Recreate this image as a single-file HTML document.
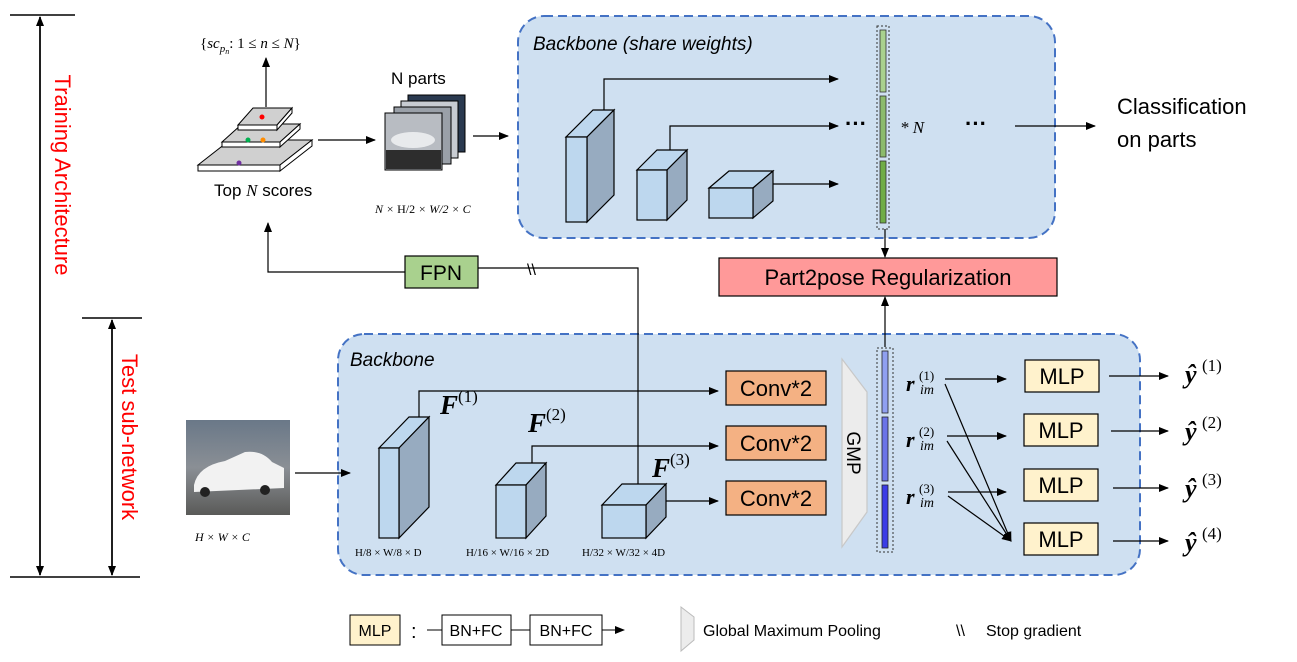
<!DOCTYPE html>
<html><head><meta charset="utf-8"><style>
html,body{margin:0;padding:0;background:#fff;}
svg{display:block;}
text{font-family:"Liberation Sans",sans-serif;}
text.s,.s text,.s tspan{font-family:"Liberation Serif",serif;}
</style></head><body>
<svg width="1297" height="662" viewBox="0 0 1297 662" xmlns="http://www.w3.org/2000/svg">
<defs>
<marker id="a" markerWidth="10" markerHeight="10" refX="9" refY="5" orient="auto" markerUnits="userSpaceOnUse"><path d="M0,1 L10,5 L0,9 z" fill="#000"/></marker>
<linearGradient id="sky" x1="0" y1="0" x2="0" y2="1"><stop offset="0" stop-color="#6a7888"/><stop offset="0.5" stop-color="#8a8f95"/><stop offset="1" stop-color="#5a5a58"/></linearGradient>
</defs>

<g stroke="#000" stroke-width="1.5">
<line x1="10" y1="15" x2="75" y2="15"/><line x1="10" y1="577" x2="140" y2="577"/>
<line x1="40" y1="17" x2="40" y2="575" marker-end="url(#a)"/><line x1="40" y1="575" x2="40" y2="17" marker-end="url(#a)"/>
<line x1="82" y1="318" x2="142" y2="318"/>
<line x1="112" y1="320" x2="112" y2="575" marker-end="url(#a)"/><line x1="112" y1="575" x2="112" y2="320" marker-end="url(#a)"/>
</g>
<text x="0" y="0" transform="translate(55,175) rotate(90)" text-anchor="middle" font-size="22" fill="#ff0000">Training Architecture</text>
<text x="0" y="0" transform="translate(122,437) rotate(90)" text-anchor="middle" font-size="22" fill="#ff0000">Test sub-network</text>

<rect x="518" y="16" width="537" height="222" rx="26" fill="#cfe0f1" stroke="#4472c4" stroke-width="2" stroke-dasharray="9,5"/>
<rect x="338" y="334" width="802" height="241" rx="26" fill="#cfe0f1" stroke="#4472c4" stroke-width="2" stroke-dasharray="9,5"/>
<text x="533" y="50" font-size="19" font-style="italic">Backbone (share weights)</text>
<text x="350" y="366" font-size="19" font-style="italic">Backbone</text>

<g stroke="#000" stroke-width="1.2">
<polygon points="566,137 593,110 614,110 587,137" fill="#bdd7ee"/><polygon points="587,137 614,110 614,195 587,222" fill="#97abc0"/><rect x="566" y="137" width="21" height="85" fill="#bdd7ee"/>
<polygon points="637,170 657,150 687,150 667,170" fill="#bdd7ee"/><polygon points="667,170 687,150 687,200 667,220" fill="#97abc0"/><rect x="637" y="170" width="30" height="50" fill="#bdd7ee"/>
<polygon points="709,188 729,171 773,171 753,188" fill="#bdd7ee"/><polygon points="753,188 773,171 773,201 753,218" fill="#97abc0"/><rect x="709" y="188" width="44" height="30" fill="#bdd7ee"/>
</g>
<g stroke="#000" stroke-width="1.2" fill="none">
<polyline points="604,110 604,79 838,79" marker-end="url(#a)"/>
<polyline points="670,150 670,126 838,126" marker-end="url(#a)"/>
<line x1="773" y1="184" x2="838" y2="184" marker-end="url(#a)"/>
</g>
<rect x="877" y="26" width="12" height="203" fill="none" stroke="#333" stroke-width="1" stroke-dasharray="2,2"/>
<rect x="880" y="30" width="6" height="62" fill="#a9d18e" stroke="#333" stroke-width="0.8"/>
<rect x="880" y="96" width="6" height="61" fill="#8cbb6c" stroke="#333" stroke-width="0.8"/>
<rect x="880" y="161" width="6" height="62" fill="#70ad47" stroke="#333" stroke-width="0.8"/>
<text x="845" y="131" font-size="22" font-weight="bold">···</text>
<text x="900" y="133" font-size="17" class="s" font-style="italic">* N</text>
<text x="965" y="131" font-size="22" font-weight="bold">···</text>
<line x1="1015" y1="126" x2="1095" y2="126" stroke="#000" stroke-width="1.2" marker-end="url(#a)"/>
<text x="1117" y="114" font-size="22">Classification</text>
<text x="1117" y="147" font-size="22">on parts</text>

<line x1="885" y1="229" x2="885" y2="257" stroke="#000" stroke-width="1.2" marker-end="url(#a)"/>
<rect x="719" y="258" width="338" height="38" fill="#ff9999" stroke="#000" stroke-width="1.2"/>
<text x="888" y="285" font-size="22" text-anchor="middle">Part2pose Regularization</text>
<line x1="885" y1="347" x2="885" y2="297" stroke="#000" stroke-width="1.2" marker-end="url(#a)"/>

<g stroke="#000" stroke-width="1">
<polygon points="198,165 230,140 312,140 280,165" fill="#d0d0d0"/><polygon points="198,165 280,165 280,171 198,171" fill="#fff"/><polygon points="280,165 312,140 312,146 280,171" fill="#fff"/>
<polygon points="222,142 242,124 300,124 280,142" fill="#d0d0d0"/><polygon points="222,142 280,142 280,147 222,147" fill="#fff"/><polygon points="280,142 300,124 300,129 280,147" fill="#fff"/>
<polygon points="238,125 253,108 292,108 277,125" fill="#d0d0d0"/><polygon points="238,125 277,125 277,130 238,130" fill="#fff"/><polygon points="277,125 292,108 292,113 277,130" fill="#fff"/>
</g>
<circle cx="262" cy="117" r="2.5" fill="#ff0000"/><circle cx="248" cy="140" r="2.5" fill="#00b050"/><circle cx="263" cy="140" r="2.5" fill="#ff8c00"/><circle cx="239" cy="163" r="2.5" fill="#7030a0"/>
<line x1="266" y1="107" x2="266" y2="58" stroke="#000" stroke-width="1.2" marker-end="url(#a)"/>
<text x="200" y="48" font-size="15" class="s">{<tspan font-style="italic">sc</tspan><tspan font-size="11" dy="4" font-style="italic">p</tspan><tspan font-size="8" dy="2" font-style="italic">n</tspan><tspan dy="-6">: 1 ≤ </tspan><tspan font-style="italic">n</tspan> ≤ <tspan font-style="italic">N</tspan>}</text>
<text x="214" y="196" font-size="17">Top <tspan font-family="Liberation Serif" font-style="italic">N</tspan> scores</text>

<text x="391" y="84" font-size="17">N parts</text>
<rect x="408" y="95" width="57" height="57" fill="#2a3a50" stroke="#000"/>
<rect x="401" y="101" width="57" height="57" fill="#c8ccd2" stroke="#000"/>
<rect x="394" y="107" width="57" height="57" fill="#9aa0a8" stroke="#000"/>
<rect x="385" y="113" width="57" height="57" fill="#b8bcc2" stroke="#000"/>
<rect x="386" y="150" width="55" height="19" fill="#2d2d2d"/>
<ellipse cx="413" cy="140" rx="22" ry="8" fill="#e8eaec"/>
<text x="375" y="213" font-size="12" class="s" font-style="italic">N × <tspan font-style="normal">H/2</tspan> × W/2 × C</text>
<line x1="318" y1="140" x2="375" y2="140" stroke="#000" stroke-width="1.2" marker-end="url(#a)"/>
<line x1="473" y1="136" x2="508" y2="136" stroke="#000" stroke-width="1.2" marker-end="url(#a)"/>

<rect x="405" y="256" width="73" height="32" fill="#a9d18e" stroke="#000" stroke-width="1.2"/>
<text x="441" y="280" font-size="21" text-anchor="middle">FPN</text>
<polyline points="405,272 268,272 268,223" fill="none" stroke="#000" stroke-width="1.2" marker-end="url(#a)"/>
<polyline points="638,484 638,268 478,268" fill="none" stroke="#000" stroke-width="1.2"/>
<text x="527" y="275" font-size="16">\\</text>

<rect x="186" y="420" width="104" height="95" fill="url(#sky)"/>
<path d="M194,485 Q198,466 225,461 L245,452 Q262,450 272,462 L284,468 L284,488 L194,492 z" fill="#f2f2f2"/>
<circle cx="205" cy="492" r="5" fill="#222"/><circle cx="265" cy="490" r="5" fill="#222"/>
<text x="195" y="541" font-size="12" class="s" font-style="italic">H × W × C</text>
<line x1="295" y1="473" x2="350" y2="473" stroke="#000" stroke-width="1.2" marker-end="url(#a)"/>

<g stroke="#000" stroke-width="1.2">
<polygon points="379,448 409,417 429,417 399,448" fill="#bdd7ee"/><polygon points="399,448 429,417 429,507 399,538" fill="#97abc0"/><rect x="379" y="448" width="20" height="90" fill="#bdd7ee"/>
<polygon points="496,485 516,463 546,463 526,485" fill="#bdd7ee"/><polygon points="526,485 546,463 546,516 526,538" fill="#97abc0"/><rect x="496" y="485" width="30" height="53" fill="#bdd7ee"/>
<polygon points="602,505 622,484 666,484 646,505" fill="#bdd7ee"/><polygon points="646,505 666,484 666,517 646,538" fill="#97abc0"/><rect x="602" y="505" width="44" height="33" fill="#bdd7ee"/>
</g>
<g stroke="#000" stroke-width="1.2" fill="none">
<polyline points="419,417 419,391 718,391" marker-end="url(#a)"/>
<polyline points="532,463 532,446 718,446" marker-end="url(#a)"/>
<line x1="666" y1="501" x2="718" y2="501" marker-end="url(#a)"/>
</g>
<g class="s">
<text x="440" y="414" font-size="27" font-weight="bold" font-style="italic">F</text><text x="458" y="402" font-size="17">(1)</text>
<text x="528" y="432" font-size="27" font-weight="bold" font-style="italic">F</text><text x="546" y="420" font-size="17">(2)</text>
<text x="652" y="477" font-size="27" font-weight="bold" font-style="italic">F</text><text x="670" y="465" font-size="17">(3)</text>
</g>
<g class="s" font-size="11">
<text x="355" y="556">H/8 × W/8 × D</text>
<text x="466" y="556">H/16 × W/16 × 2D</text>
<text x="582" y="556">H/32 × W/32 × 4D</text>
</g>

<g fill="#f4b183" stroke="#000" stroke-width="1.2">
<rect x="726" y="371" width="100" height="34"/><rect x="726" y="426" width="100" height="34"/><rect x="726" y="481" width="100" height="34"/>
</g>
<g font-size="22" text-anchor="middle"><text x="776" y="396">Conv*2</text><text x="776" y="451">Conv*2</text><text x="776" y="506">Conv*2</text></g>

<polygon points="842,359 867,392 867,512 842,547" fill="#ececec" stroke="#c8c8c8" stroke-width="1.2"/>
<text x="0" y="0" transform="translate(847,453) rotate(90)" font-size="19" text-anchor="middle">GMP</text>

<rect x="877" y="348" width="16" height="204" fill="none" stroke="#333" stroke-width="1" stroke-dasharray="2,2"/>
<rect x="882" y="351" width="6" height="62" fill="#8fa0f0" stroke="#222" stroke-width="0.8"/>
<rect x="882" y="417" width="6" height="64" fill="#6a74e8" stroke="#222" stroke-width="0.8"/>
<rect x="882" y="485" width="6" height="63" fill="#3a3ce6" stroke="#222" stroke-width="0.8"/>

<g class="s">
<text x="906" y="391" font-size="22" font-weight="bold" font-style="italic">r</text><text x="919" y="380" font-size="13">(1)</text><text x="920" y="394" font-size="14" font-style="italic">im</text>
<text x="906" y="447" font-size="22" font-weight="bold" font-style="italic">r</text><text x="919" y="436" font-size="13">(2)</text><text x="920" y="450" font-size="14" font-style="italic">im</text>
<text x="906" y="504" font-size="22" font-weight="bold" font-style="italic">r</text><text x="919" y="493" font-size="13">(3)</text><text x="920" y="507" font-size="14" font-style="italic">im</text>
</g>
<g stroke="#000" stroke-width="1.2" fill="none">
<line x1="945" y1="379" x2="1006" y2="379" marker-end="url(#a)"/>
<line x1="947" y1="436" x2="1006" y2="436" marker-end="url(#a)"/>
<line x1="948" y1="492" x2="1006" y2="492" marker-end="url(#a)"/>
<line x1="945" y1="384" x2="1011" y2="541" marker-end="url(#a)"/>
<line x1="947" y1="441" x2="1011" y2="541" marker-end="url(#a)"/>
<line x1="948" y1="496" x2="1011" y2="541" marker-end="url(#a)"/>
</g>
<g fill="#fff2cc" stroke="#000" stroke-width="1.2">
<rect x="1025" y="360" width="74" height="32"/><rect x="1024" y="414" width="74" height="32"/><rect x="1024" y="469" width="74" height="32"/><rect x="1024" y="523" width="74" height="32"/>
</g>
<g font-size="22" text-anchor="middle"><text x="1062" y="384">MLP</text><text x="1061" y="438">MLP</text><text x="1061" y="493">MLP</text><text x="1061" y="547">MLP</text></g>
<g stroke="#000" stroke-width="1.2">
<line x1="1109" y1="376" x2="1168" y2="376" marker-end="url(#a)"/>
<line x1="1111" y1="431" x2="1168" y2="431" marker-end="url(#a)"/>
<line x1="1113" y1="488" x2="1168" y2="488" marker-end="url(#a)"/>
<line x1="1113" y1="541" x2="1168" y2="541" marker-end="url(#a)"/>
</g>
<g class="s">
<text x="1185" y="383" font-size="26" font-weight="bold" font-style="italic">ŷ</text><text x="1202" y="371" font-size="17">(1)</text>
<text x="1185" y="440" font-size="26" font-weight="bold" font-style="italic">ŷ</text><text x="1202" y="428" font-size="17">(2)</text>
<text x="1185" y="497" font-size="26" font-weight="bold" font-style="italic">ŷ</text><text x="1202" y="485" font-size="17">(3)</text>
<text x="1185" y="551" font-size="26" font-weight="bold" font-style="italic">ŷ</text><text x="1202" y="539" font-size="17">(4)</text>
</g>

<rect x="350" y="615" width="50" height="30" fill="#fff2cc" stroke="#000" stroke-width="1"/>
<text x="375" y="636" font-size="16" text-anchor="middle">MLP</text>
<text x="411" y="638" font-size="20">:</text>
<line x1="427" y1="630" x2="442" y2="630" stroke="#000"/>
<rect x="442" y="615" width="69" height="30" fill="#fff" stroke="#000"/>
<text x="476" y="636" font-size="16" text-anchor="middle">BN+FC</text>
<line x1="511" y1="630" x2="530" y2="630" stroke="#000"/>
<rect x="530" y="615" width="72" height="30" fill="#fff" stroke="#000"/>
<text x="566" y="636" font-size="16" text-anchor="middle">BN+FC</text>
<line x1="602" y1="630" x2="624" y2="630" stroke="#000" marker-end="url(#a)"/>
<polygon points="681,607 694,617 694,640 681,651" fill="#ececec" stroke="#bbb"/>
<text x="703" y="636" font-size="16">Global Maximum Pooling</text>
<text x="956" y="636" font-size="16">\\</text>
<text x="986" y="636" font-size="16">Stop gradient</text>
</svg>
</body></html>
